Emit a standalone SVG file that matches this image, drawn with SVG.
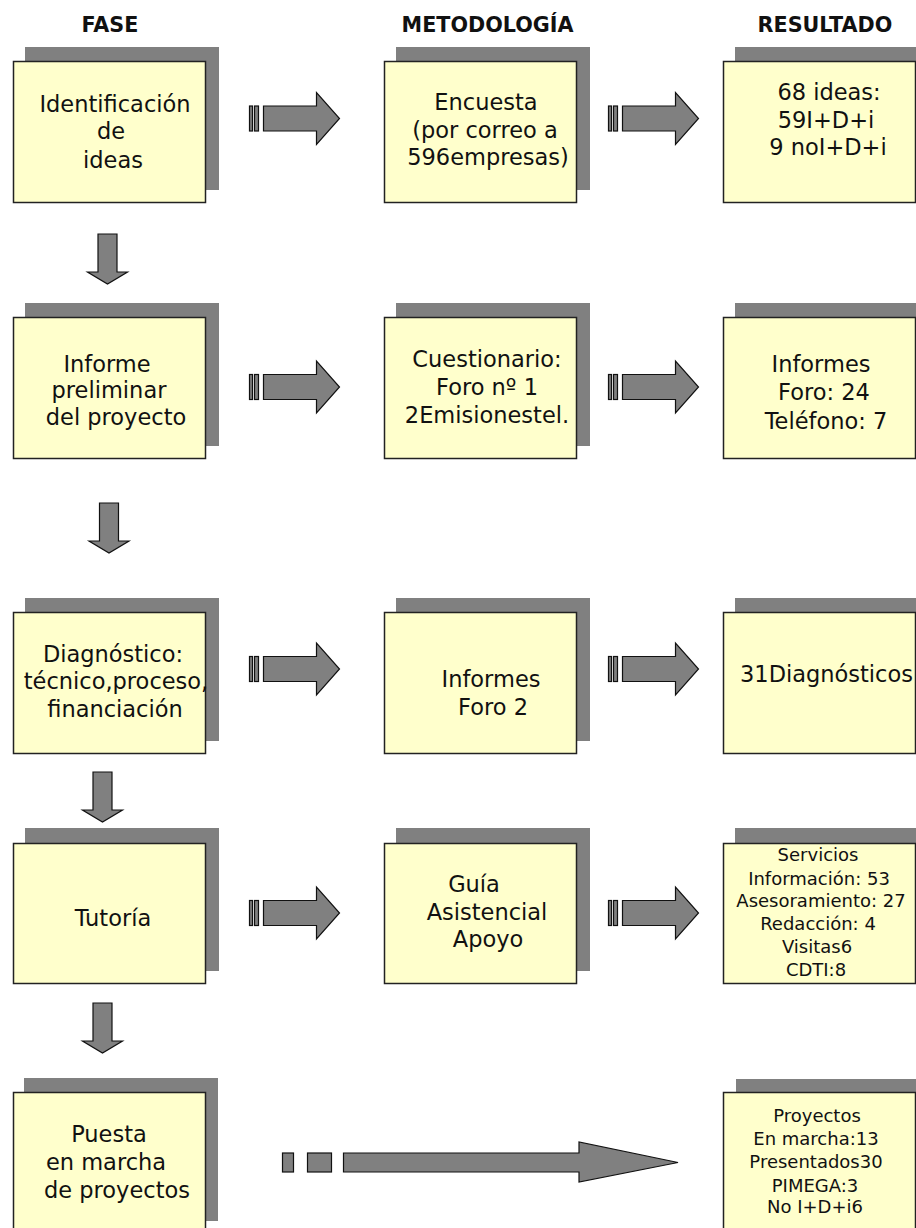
<svg xmlns="http://www.w3.org/2000/svg" xmlns:xlink="http://www.w3.org/1999/xlink" width="916" height="1228" viewBox="0 0 916 1228">
<style>
.sh{fill:#808080}
.bx{fill:#FFFFCC;stroke:#222;stroke-width:1.5}
.ar{fill:#808080;stroke:#111;stroke-width:1.2;stroke-linejoin:miter}
.hd{font-family:"DejaVu Sans",Verdana,sans-serif;font-weight:bold;font-size:20.7px;fill:#111;text-anchor:middle}
.t{font-family:"DejaVu Sans",Verdana,sans-serif;font-size:22.5px;fill:#111;text-anchor:middle}
.s{font-family:"DejaVu Sans",Verdana,sans-serif;font-size:18px;fill:#111;text-anchor:middle}
</style>
<defs>
<g id="rarrow">
<rect class="ar" x="0" y="-12.5" width="3" height="25"/>
<rect class="ar" x="5" y="-12.5" width="4" height="25"/>
<path class="ar" d="M14,-12.5 H67 V-26 L90,0 L67,26 V12.5 H14 Z"/>
</g>
<path id="darrow" class="ar" d="M-9.5,0 H9.5 V38 H20 L0,50 L-20,38 H-9.5 Z"/>
</defs>
<rect width="916" height="1228" fill="#fff"/>

<g id="headers">
<text class="hd" x="110" y="32">FASE</text>
<text class="hd" x="487.5" y="32">METODOLOGÍA</text>
<text class="hd" x="825" y="32">RESULTADO</text>
</g>

<g id="connectors">
<use xlink:href="#rarrow" transform="translate(249.5,118.5)"/>
<use xlink:href="#rarrow" transform="translate(608.5,118.5)"/>
<use xlink:href="#rarrow" transform="translate(249.5,387)"/>
<use xlink:href="#rarrow" transform="translate(608.5,387)"/>
<use xlink:href="#rarrow" transform="translate(249.5,669)"/>
<use xlink:href="#rarrow" transform="translate(608.5,669)"/>
<use xlink:href="#rarrow" transform="translate(249.5,913)"/>
<use xlink:href="#rarrow" transform="translate(608.5,913)"/>
<use xlink:href="#darrow" transform="translate(107.5,234)"/>
<use xlink:href="#darrow" transform="translate(109,503)"/>
<use xlink:href="#darrow" transform="translate(102.5,772)"/>
<use xlink:href="#darrow" transform="translate(102.5,1003)"/>
<rect class="ar" x="282.5" y="1153" width="11" height="19"/>
<rect class="ar" x="307.5" y="1153" width="24" height="19"/>
<path class="ar" d="M343.5,1153 H579 V1142 L678,1162.5 L579,1182 V1172 H343.5 Z"/>
</g>

<g id="fase1">
<rect class="sh" x="25" y="47" width="194" height="143"/>
<rect class="bx" x="13.5" y="61.5" width="192" height="141"/>
<text class="t" x="115" y="112">Identificación</text>
<text class="t" x="111" y="139">de</text>
<text class="t" x="113" y="168">ideas</text>
</g>
<g id="metodo1">
<rect class="sh" x="396" y="47" width="194" height="143"/>
<rect class="bx" x="384.5" y="61.5" width="192" height="141"/>
<text class="t" x="486" y="110">Encuesta</text>
<text class="t" x="485" y="138">(por correo a</text>
<text class="t" x="488" y="165">596empresas)</text>
</g>
<g id="result1">
<rect class="sh" x="735" y="47" width="194" height="143"/>
<rect class="bx" x="723.5" y="61.5" width="192" height="141"/>
<text class="t" x="829" y="100">68 ideas:</text>
<text class="t" x="826" y="128">59I+D+i</text>
<text class="t" x="828" y="155">9 noI+D+i</text>
</g>

<g id="fase2">
<rect class="sh" x="25" y="303" width="194" height="143"/>
<rect class="bx" x="13.5" y="317.5" width="192" height="141"/>
<text class="t" x="107" y="372">Informe</text>
<text class="t" x="109" y="398">preliminar</text>
<text class="t" x="116" y="425">del proyecto</text>
</g>
<g id="metodo2">
<rect class="sh" x="396" y="303" width="194" height="143"/>
<rect class="bx" x="384.5" y="317.5" width="192" height="141"/>
<text class="t" x="487" y="367">Cuestionario:</text>
<text class="t" x="487" y="395">Foro nº 1</text>
<text class="t" x="487" y="423">2Emisionestel.</text>
</g>
<g id="result2">
<rect class="sh" x="735" y="303" width="194" height="143"/>
<rect class="bx" x="723.5" y="317.5" width="192" height="141"/>
<text class="t" x="821" y="372">Informes</text>
<text class="t" x="824" y="400">Foro: 24</text>
<text class="t" x="826" y="429">Teléfono: 7</text>
</g>

<g id="fase3">
<rect class="sh" x="25" y="598" width="194" height="143"/>
<rect class="bx" x="13.5" y="612.5" width="192" height="141"/>
<text class="t" x="113" y="662">Diagnóstico:</text>
<text class="t" x="116" y="689">técnico,proceso,</text>
<text class="t" x="115" y="717">financiación</text>
</g>
<g id="metodo3">
<rect class="sh" x="396" y="598" width="194" height="143"/>
<rect class="bx" x="384.5" y="612.5" width="192" height="141"/>
<text class="t" x="491" y="687">Informes</text>
<text class="t" x="493" y="715">Foro 2</text>
</g>
<g id="result3">
<rect class="sh" x="735" y="598" width="194" height="143"/>
<rect class="bx" x="723.5" y="612.5" width="192" height="141"/>
<text class="t" x="740" y="682" style="text-anchor:start">31Diagnósticos</text>
</g>

<g id="fase4">
<rect class="sh" x="25" y="828" width="194" height="143"/>
<rect class="bx" x="13.5" y="843.5" width="192" height="140"/>
<text class="t" x="113" y="926">Tutoría</text>
</g>
<g id="metodo4">
<rect class="sh" x="396" y="828" width="194" height="143"/>
<rect class="bx" x="384.5" y="843.5" width="192" height="140"/>
<text class="t" x="474" y="892">Guía</text>
<text class="t" x="487" y="920">Asistencial</text>
<text class="t" x="488" y="947">Apoyo</text>
</g>
<g id="result4">
<rect class="sh" x="735" y="828" width="194" height="143"/>
<rect class="bx" x="723.5" y="843.5" width="192" height="140"/>
<text class="s" x="818" y="861">Servicios</text>
<text class="s" x="819" y="885">Información: 53</text>
<text class="s" x="821" y="907">Asesoramiento: 27</text>
<text class="s" x="818" y="930">Redacción: 4</text>
<text class="s" x="817" y="953">Visitas6</text>
<text class="s" x="816" y="976">CDTI:8</text>
</g>

<g id="fase5">
<rect class="sh" x="24" y="1078" width="194" height="143"/>
<rect class="bx" x="13.5" y="1092.5" width="192" height="141"/>
<text class="t" x="109" y="1142">Puesta</text>
<text class="t" x="106" y="1170">en marcha</text>
<text class="t" x="117" y="1198">de proyectos</text>
</g>
<g id="result5">
<rect class="sh" x="736" y="1079" width="194" height="143"/>
<rect class="bx" x="723.5" y="1092.5" width="192" height="141"/>
<text class="s" x="817" y="1122">Proyectos</text>
<text class="s" x="816" y="1145">En marcha:13</text>
<text class="s" x="816" y="1168">Presentados30</text>
<text class="s" x="815" y="1192">PIMEGA:3</text>
<text class="s" x="815" y="1213">No I+D+i6</text>
</g>
</svg>
